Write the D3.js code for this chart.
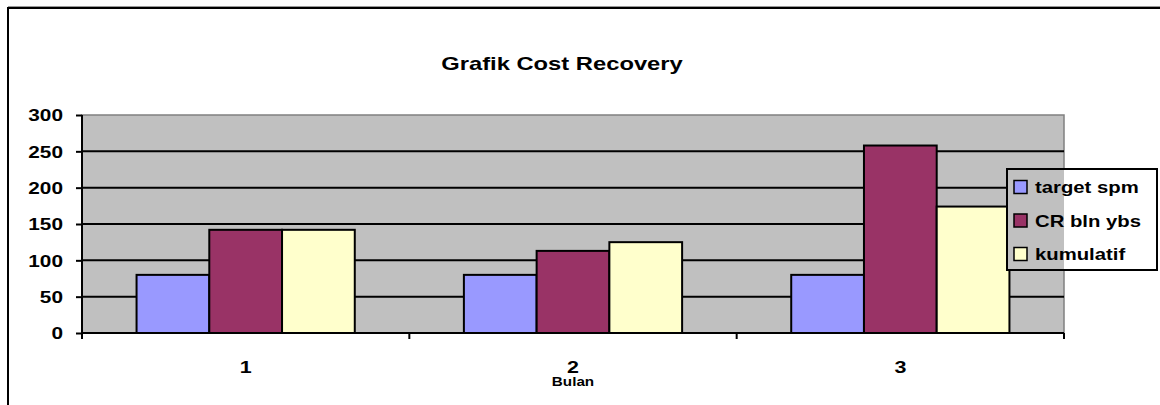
<!DOCTYPE html>
<html><head><meta charset="utf-8">
<script src="https://cdn.jsdelivr.net/npm/d3@7"></script>
<style>body{margin:0;background:#fff;} svg{display:block;font-family:Arial,"Liberation Sans",sans-serif;font-weight:bold;}</style>
</head><body>
<svg id="c" width="1160" height="405"></svg>
<script>
const categories = ["1","2","3"];
const seriesNames = ["target spm","CR bln ybs","kumulatif"];
const targetSpm = [80, 80, 80];
const crBlnYbs = [142, 113, 258];
const kumulatif = [142, 125, 174];
const yTicks = [0,50,100,150,200,250,300];
const colors = ["#9999FF","#993366","#FFFFCC"];
const title = "Grafik Cost Recovery";
const xTitle = "Bulan";

const seriesVals = [targetSpm, crBlnYbs, kumulatif];
const svg = d3.select("#c");
const L = 82, R = 1064, T = 115, B = 333;
const SX = 1.3; // horizontal stretch of the original text

function stretch(sel, x, y, sx) {
  sel.each(function(){
    const t = d3.select(this);
    t.attr("x", 0).attr("y", 0).attr("dy", null)
     .attr("transform", `translate(${x},${y}) scale(${sx},1)`);
  });
}

// outer chart border
svg.append("line").attr("x1",8).attr("x2",1170).attr("y1",6.5).attr("y2",6.5).attr("stroke","#999").attr("stroke-width",1);
svg.append("rect").attr("x",8).attr("y",8).attr("width",1200).attr("height",500).attr("fill","none").attr("stroke","#000").attr("stroke-width",2);

const x = d3.scaleBand().domain(categories).range([L,R]).padding(0);
const bw = x.bandwidth()/4.5;
const xs = d3.scaleBand().domain(seriesNames).range([bw*0.75, x.bandwidth()-bw*0.75]).padding(0);
const y = d3.scaleLinear().domain([0,300]).range([B,T]);

// plot area
svg.append("rect").attr("x",L).attr("y",T).attr("width",R-L).attr("height",B-T).attr("fill","#C0C0C0").attr("stroke","#808080").attr("stroke-width",1.5);

// gridlines
svg.append("g").selectAll("line").data(yTicks.filter(v=>v>0 && v<300)).join("line")
  .attr("x1",L).attr("x2",R).attr("y1",d=>y(d)).attr("y2",d=>y(d)).attr("stroke","#000").attr("stroke-width",2);

// bars
const rows = [];
categories.forEach((c,i)=>seriesNames.forEach((s,j)=>rows.push({c,s,v:seriesVals[j][i],col:colors[j]})));
svg.append("g").selectAll("rect").data(rows).join("rect")
  .attr("x",d=>x(d.c)+xs(d.s)).attr("width",xs.bandwidth())
  .attr("y",d=>y(d.v)).attr("height",d=>B-y(d.v))
  .attr("fill",d=>d.col).attr("stroke","#000").attr("stroke-width",2);

// y axis
const ya = svg.append("g").attr("transform",`translate(${L},0)`)
  .call(d3.axisLeft(y).tickValues(yTicks).tickSize(6).tickPadding(12));
ya.attr("font-size",null).attr("font-family",null);
ya.select(".domain").attr("stroke","#000").attr("stroke-width",2).attr("d",`M0,${T}V${B+5}`);
ya.selectAll(".tick line").attr("stroke","#000").attr("stroke-width",2);
ya.selectAll(".tick text").attr("font-size",16).attr("fill","#000").attr("text-anchor","end");
stretch(ya.selectAll(".tick text"), -19, 5.7, SX);

// x axis
const xa = svg.append("g").attr("transform",`translate(0,${B})`)
  .call(d3.axisBottom(x).tickSize(0).tickPadding(17));
xa.attr("font-size",null).attr("font-family",null);
xa.select(".domain").attr("stroke","#000").attr("stroke-width",2).attr("d",`M${L},0H${R}`);
xa.selectAll(".tick text").attr("font-size",16.5).attr("fill","#000").attr("text-anchor","middle");
stretch(xa.selectAll(".tick text"), 0, 40, SX);
const bounds = categories.map(c=>x(c)).concat([R]);
xa.append("g").selectAll("line").data(bounds).join("line")
  .attr("x1",d=>d).attr("x2",d=>d).attr("y1",0).attr("y2",6).attr("stroke","#000").attr("stroke-width",2);

// title
svg.append("text").attr("text-anchor","middle").attr("font-size",19).text(title)
  .call(s=>stretch(s, 562, 70, 1.25));
svg.append("text").attr("text-anchor","middle").attr("font-size",12.5).text(xTitle)
  .call(s=>stretch(s, x("2")+x.bandwidth()/2, 386, 1.22));

// legend
const lx = 1007, ly = 169, lw = 150, lh = 101;
svg.append("rect").attr("x",lx).attr("y",ly).attr("width",R-lx).attr("height",lh).attr("fill","#C0C0C0");
svg.append("rect").attr("x",R).attr("y",ly).attr("width",lx+lw-R).attr("height",lh).attr("fill","#fff");
svg.append("rect").attr("x",lx).attr("y",ly).attr("width",lw).attr("height",lh).attr("fill","none").attr("stroke","#000").attr("stroke-width",2);
const lg = svg.append("g").selectAll("g").data(seriesNames).join("g")
  .attr("transform",(d,i)=>`translate(${lx+7},${ly+18+i*33.5})`);
lg.append("rect").attr("x",0).attr("y",-6.5).attr("width",13).attr("height",13).attr("fill",(d,i)=>colors[i]).attr("stroke","#000").attr("stroke-width",1.5);
lg.append("text").attr("font-size",16.5).text(d=>d).call(s=>stretch(s, 21, 6.2, 1.23));
</script>
</body></html>
